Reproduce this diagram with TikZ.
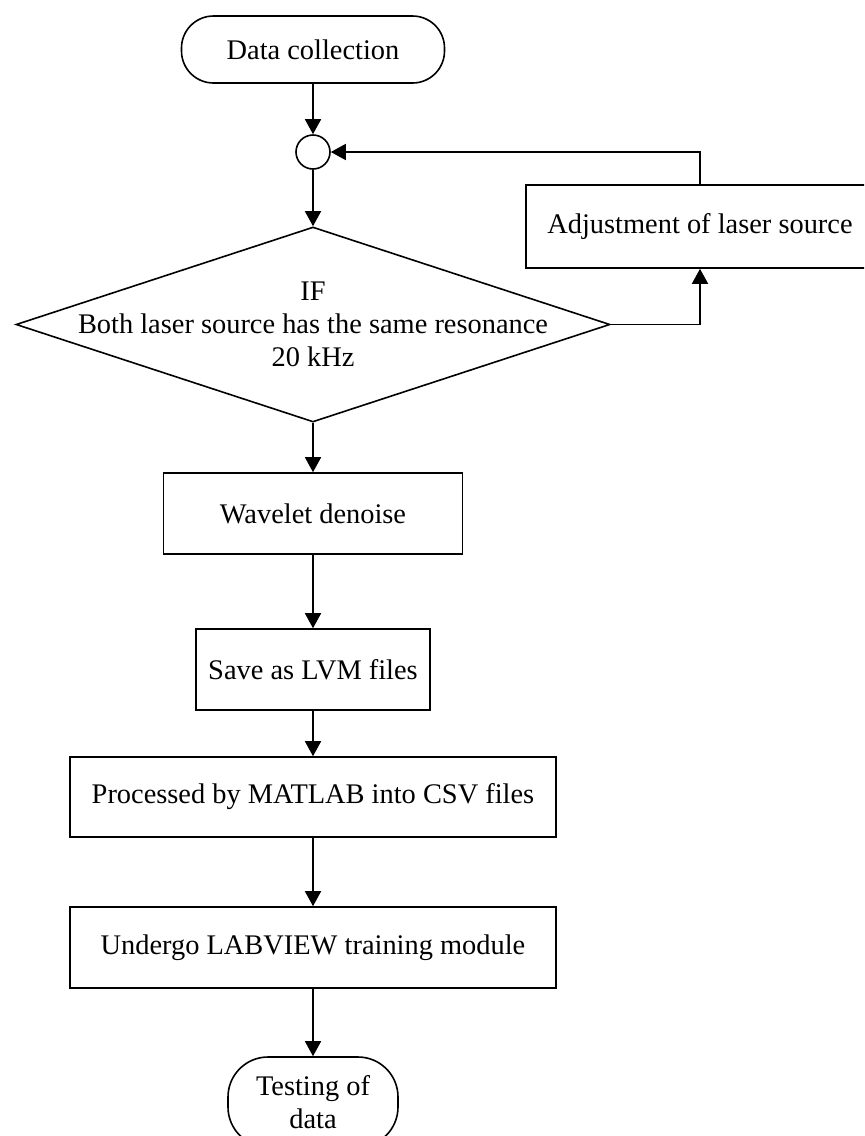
\documentclass[tikz,border=0pt]{standalone}
\usepackage{fontspec}
\setmainfont{Liberation Serif}
\usetikzlibrary{shapes.geometric,arrows.meta}

\begin{document}
\begin{tikzpicture}[x=0.5pt,y=-0.5pt,line width=0.8pt,
		font=\fontsize{14.2pt}{16.5pt}\selectfont,
		proc/.style={draw, rectangle, minimum height=40.5pt, align=center, inner sep=0pt},
		term/.style={draw, rectangle, rounded corners=16pt, align=center, inner sep=0pt},
		decision/.style={draw, diamond, minimum width=297pt, minimum height=97.5pt, inner sep=0pt},
		flow/.style={-{Triangle[width=8pt,length=7.5pt]}}]
			\useasboundingbox (0,0) rectangle (864,1136);
			\clip (0,0) rectangle (864,1136);
			\node[term, minimum width=131.5pt, minimum height=33.5pt] (start) at (313,49.5) {Data collection};
			\node[draw, circle, minimum size=17pt, inner sep=0pt] (join) at (313,152) {};
			\node[decision] (test) at (313,324.5) {};
			\node[align=center] (cond) at (test.center) {IF\\Both laser source has the same resonance\\20 kHz};
			\node[proc, minimum width=174pt, minimum height=41.5pt] (adjust) at (700,226.5) {Adjustment of laser source};
			\node[proc, minimum width=149.5pt] (wave) at (313,513.5) {Wavelet denoise};
			\node[proc, minimum width=117pt] (save) at (313,669.5) {Save as LVM files};
			\node[proc, minimum width=243pt, minimum height=40pt] (matlab) at (313,797) {Processed by MATLAB into CSV files};
			\node[proc, minimum width=243pt] (labview) at (313,947.5) {Undergo LABVIEW training module};
			\node[term, rounded corners=20pt, minimum width=85pt, minimum height=45pt] (testing) at (313,1102) {Testing of\\data};
			\draw[flow] (start) -- (join);
			\draw[flow] (join) -- (test);
			\draw[flow] (test) -- (wave);
			\draw[flow] (wave) -- (save);
			\draw[flow] (save) -- (matlab);
			\draw[flow] (matlab) -- (labview);
			\draw[flow] (labview) -- (testing);
			\draw[flow] (test.east) -| (adjust.south);
			\draw[flow] (adjust.north) |- (join.east);
	    \end{tikzpicture}
\end{document}
